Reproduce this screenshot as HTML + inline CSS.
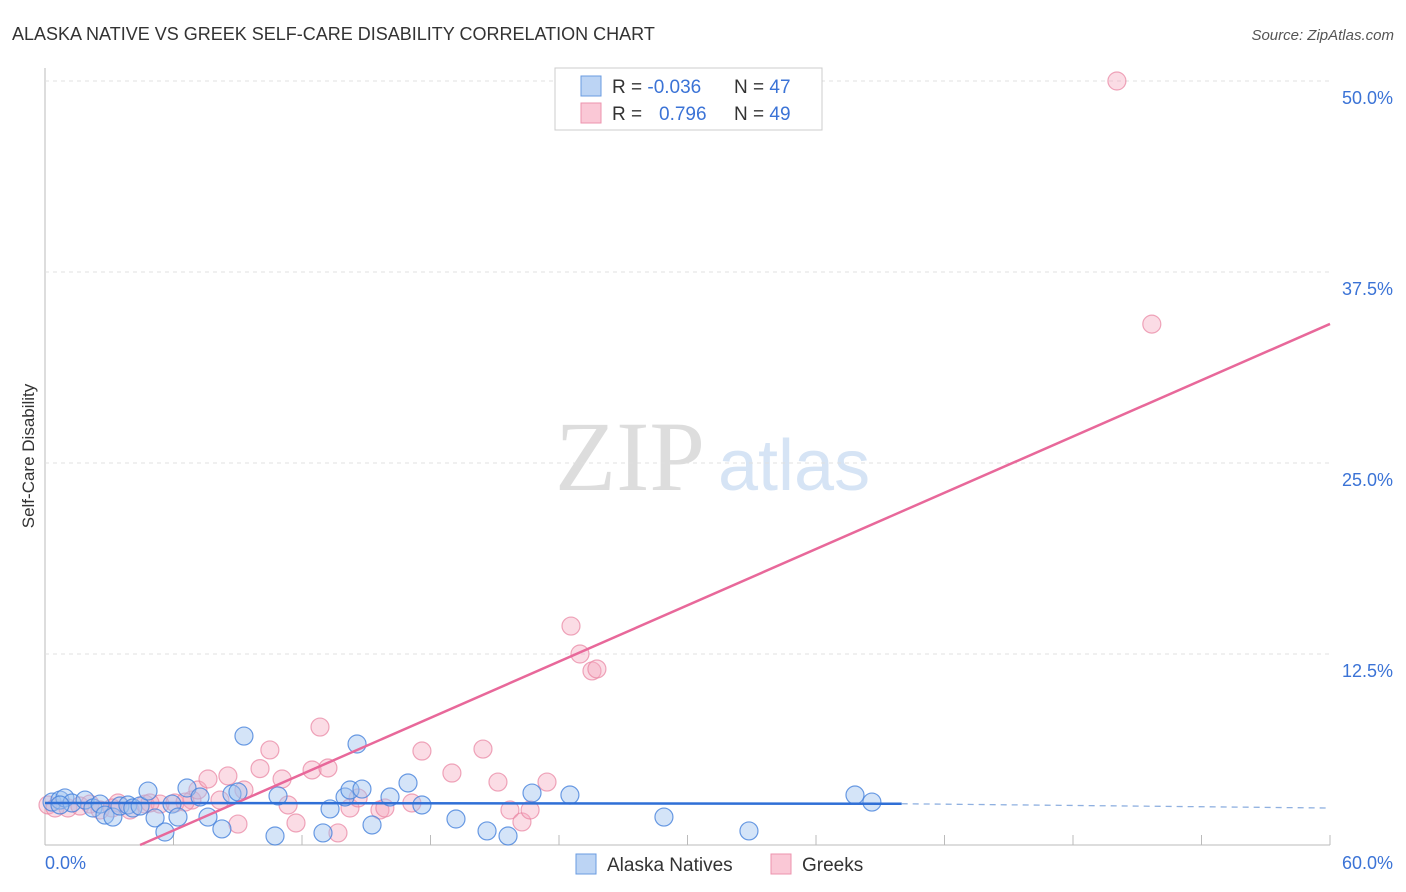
<!DOCTYPE html>
<html><head><meta charset="utf-8"><style>
body{margin:0;background:#fff;font-family:"Liberation Sans",sans-serif;}
#c{position:relative;width:1406px;height:892px;overflow:hidden}
</style></head><body><div id="c">
<svg id="s" width="1406" height="892" xmlns="http://www.w3.org/2000/svg" style="position:absolute;left:0;top:0">
<text x="12" y="40" font-size="18" fill="#333">ALASKA NATIVE VS GREEK SELF-CARE DISABILITY CORRELATION CHART</text>
<text x="1394" y="40" font-size="15" fill="#555" font-style="italic" text-anchor="end">Source: ZipAtlas.com</text>
<text transform="translate(34,456) rotate(-90)" font-size="17" fill="#333" text-anchor="middle">Self-Care Disability</text>
<text x="555" y="490" font-size="100" fill="#ddd" font-family="Liberation Serif,serif">ZIP</text>
<text x="718" y="490" font-size="72" fill="#d6e4f5">atlas</text>
<g id="grid"></g><g id="pts"></g><g id="lines"></g>
<g>
<rect x="555" y="68" width="267" height="62" fill="#fff" stroke="#ccc"/>
<rect x="581" y="76" width="20" height="20" fill="#bcd4f4" stroke="#6a9be0"/>
<rect x="581" y="103" width="20" height="20" fill="#fac8d6" stroke="#ec93ae"/>
<text x="612" y="93" font-size="19" fill="#333">R = <tspan fill="#3b73d6">-0.036</tspan></text>
<text x="734" y="93" font-size="19" fill="#333">N = <tspan fill="#3b73d6">47</tspan></text>
<text x="612" y="120" font-size="19" fill="#333">R = <tspan fill="#3b73d6" x="659">0.796</tspan></text>
<text x="734" y="120" font-size="19" fill="#333">N = <tspan fill="#3b73d6">49</tspan></text>
</g>
<g>
<rect x="576" y="854" width="20" height="20" fill="#bcd4f4" stroke="#6a9be0"/>
<text x="607" y="871" font-size="19" fill="#333">Alaska Natives</text>
<rect x="771" y="854" width="20" height="20" fill="#fac8d6" stroke="#ec93ae"/>
<text x="802" y="871" font-size="19" fill="#333">Greeks</text>
</g>
</svg></div>
<script>
const yTicks=[12.5,25,37.5,50];
const yTickLabels=["12.5%","25.0%","37.5%","50.0%"];
const xTickLabels=["0.0%","60.0%"];
const blueX=[0.33,0.7,0.93,1.26,1.87,2.24,2.57,2.8,3.17,3.5,3.87,4.1,4.44,4.81,5.14,5.6,5.93,6.21,6.63,7.24,7.61,8.26,8.73,9.01,9.29,10.74,10.88,12.98,13.31,14.01,14.24,14.57,14.8,15.27,16.11,16.95,17.6,19.19,20.64,21.62,22.74,24.51,28.9,32.87,37.82,38.61,0.7];
const blueY=[2.81,2.94,3.08,2.75,2.94,2.42,2.68,1.96,1.83,2.55,2.62,2.42,2.55,3.53,1.77,0.85,2.68,1.83,3.73,3.14,1.83,1.05,3.34,3.47,7.13,0.59,3.21,0.79,2.36,3.14,3.6,6.61,3.66,1.31,3.14,4.06,2.62,1.7,0.92,0.59,3.4,3.27,1.83,0.92,3.27,2.81,2.62];
const pinkX=[0.14,0.47,1.07,1.63,2.1,2.57,3.41,3.97,4.67,5.37,6.07,6.86,7.14,7.61,8.17,8.54,9.01,9.29,10.04,10.5,11.07,11.35,11.72,12.47,12.84,13.21,13.68,14.24,14.62,15.64,15.87,17.13,17.6,19,20.45,21.15,21.71,22.27,22.65,23.44,24.56,24.98,25.54,25.77,50.05,51.68,4.9,6.54,3.13];
const pinkY=[2.62,2.42,2.42,2.55,2.68,2.29,2.75,2.29,2.68,2.68,2.75,2.94,3.6,4.32,2.94,4.52,1.37,3.6,5.0,6.22,4.32,2.62,1.44,4.91,7.72,5.04,0.79,2.42,3.08,2.29,2.42,2.75,6.15,4.71,6.28,4.12,2.29,1.51,2.29,4.12,14.33,12.5,11.39,11.52,50,34.09,2.75,2.81,2.42];
const pinkLine=[[4.44,0],[60,34.1]];
const blueLine=[[0,2.75],[40,2.7],[60,2.42]];
const X=v=>45+v/60*1285, Y=v=>845-v*15.28;
const NS="http://www.w3.org/2000/svg";
function mk(t,a,p){const e=document.createElementNS(NS,t);for(const k in a)e.setAttribute(k,a[k]);p.appendChild(e);return e;}
const g=document.getElementById('grid'),P=document.getElementById('pts'),L=document.getElementById('lines');
const ax=mk('line',{x1:45,y1:68,x2:45,y2:845,stroke:'#bbb'},g);

const bx=mk('line',{x1:45,y1:845,x2:1330,y2:845,stroke:'#bbb'},g);

yTicks.forEach((t,i)=>{
 const l=mk('line',{x1:45,y1:Y(t),x2:1330,y2:Y(t),stroke:'#e0e0e0','stroke-dasharray':'4,4'},g);
 
 const tx=mk('text',{x:1393,y:Y(t)+23,'font-size':18,fill:'#3b73d6','text-anchor':'end'},g);tx.textContent=yTickLabels[i];
 
});
for(let i=1;i<=10;i++){const l=mk('line',{x1:X(i*6),y1:845,x2:X(i*6),y2:835,stroke:'#bbb'},g);
 }
[[0,'start',45],[60,'end',1393]].forEach((d,i)=>{const t=mk('text',{x:d[2],y:869,'font-size':18,fill:'#3b73d6','text-anchor':d[1]},g);t.textContent=xTickLabels[i];
 });
pinkX.forEach((x,i)=>{const c=mk('circle',{cx:X(x),cy:Y(pinkY[i]),r:9,fill:'rgba(246,168,190,0.4)',stroke:'rgba(232,130,160,0.7)','stroke-width':1.2},P);
 });
blueX.forEach((x,i)=>{const c=mk('circle',{cx:X(x),cy:Y(blueY[i]),r:9,fill:'rgba(160,196,240,0.45)',stroke:'rgba(70,130,220,0.8)','stroke-width':1.2},P);
 });
const pl=mk('line',{x1:X(pinkLine[0][0]),y1:Y(pinkLine[0][1]),x2:X(pinkLine[1][0]),y2:Y(pinkLine[1][1]),stroke:'#e8689a','stroke-width':2.5},L);

const b1=mk('line',{x1:X(blueLine[0][0]),y1:Y(blueLine[0][1]),x2:X(blueLine[1][0]),y2:Y(blueLine[1][1]),stroke:'#2f6fd6','stroke-width':2.5},L);

const b2=mk('line',{x1:X(blueLine[1][0]),y1:Y(blueLine[1][1]),x2:X(blueLine[2][0]),y2:Y(blueLine[2][1]),stroke:'#8fb0e0','stroke-width':1.3,'stroke-dasharray':'6,5'},L);

</script></body></html>
